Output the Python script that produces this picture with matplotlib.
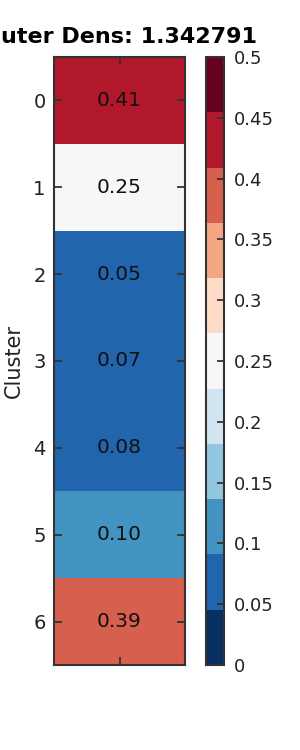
import numpy as np
import matplotlib
matplotlib.use("Agg")
import matplotlib.pyplot as plt
from matplotlib.colors import ListedColormap, Normalize

clusters = ["0", "1", "2", "3", "4", "5", "6"]
density = [0.41, 0.25, 0.05, 0.07, 0.08, 0.10, 0.39]
cbar_ticks = [0, 0.05, 0.1, 0.15, 0.2, 0.25, 0.3, 0.35, 0.4, 0.45, 0.5]
title = "Outer Dens: 1.342791"

W, H = 300, 750
fig = plt.figure(figsize=(3, 7.5), dpi=100)
ax = fig.add_axes([54 / W, 1 - 665 / H, 131 / W, 608 / H])
cax = fig.add_axes([206 / W, 1 - 665 / H, 18 / W, 608 / H])

cmap = ListedColormap(plt.get_cmap("RdBu_r", 11)(np.arange(11)))
norm = Normalize(0, 0.5)
data = np.array(density).reshape(-1, 1)
mesh = ax.pcolormesh(np.arange(2), np.arange(len(density) + 1), data, cmap=cmap, norm=norm)
ax.set_xlim(0, 1)
ax.set_ylim(len(density), 0)
for i, v in enumerate(density):
    ax.text(0.5, i + 0.5, f"{v:.2f}", ha="center", va="center", fontsize=14.5, color="#111111")

edge = "#333333"
for s in ax.spines.values():
    s.set_color(edge)
    s.set_linewidth(1.5)
ax.set_yticks(np.arange(len(density)) + 0.5)
ax.set_yticklabels(clusters, fontsize=14, color="#222222")
ax.set_xticks([0.5])
ax.set_xticklabels([])
ax.tick_params(axis="both", direction="in", length=6, width=1.3, color=edge,
               top=True, right=True, pad=6)
ax.set_ylabel("Cluster", fontsize=15, color="#222222", labelpad=7)
ax.set_title(title, fontsize=16, fontweight="bold", pad=10)

cb = fig.colorbar(mesh, cax=cax, ticks=cbar_ticks)
cb.ax.set_yticklabels([f"{t:g}" for t in cbar_ticks])
cb.outline.set_edgecolor(edge)
cb.outline.set_linewidth(1.5)
cax.tick_params(direction="in", length=5, width=1.3, color=edge, labelsize=13,
                labelcolor="#222222", pad=7)

fig.savefig("out.png", dpi=100)
